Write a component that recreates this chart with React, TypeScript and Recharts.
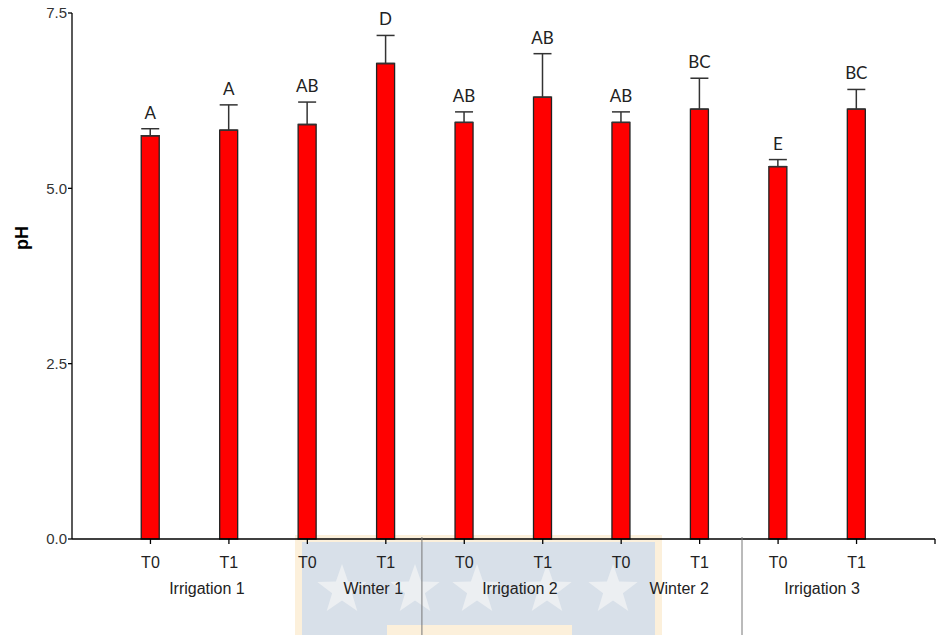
import { BarChart, Bar, XAxis, YAxis, ErrorBar, LabelList } from "recharts";

// pH per sampling slot (T0/T1 inside each season), SE shown upward only
const slots = [1, 2, 3, 4, 5, 6, 7, 8, 9, 10];
const periods = ["T0", "T1", "T0", "T1", "T0", "T1", "T0", "T1", "T0", "T1"];
const phMeans = [5.75, 5.83, 5.91, 6.78, 5.94, 6.30, 5.94, 6.13, 5.31, 6.13];
const phErrors = [0.1, 0.36, 0.32, 0.4, 0.15, 0.62, 0.15, 0.44, 0.1, 0.28];
const letters = ["A", "A", "AB", "D", "AB", "AB", "AB", "BC", "E", "BC"];

const seasons = ["Irrigation 1", "Winter 1", "Irrigation 2", "Winter 2", "Irrigation 3"];
const seasonCenters = [1.72, 3.84, 5.71, 7.74, 9.56];
const seasonBreaks = [4.46, 8.54];
const yTicks = [0, 2.5, 5, 7.5];

const W = 938;
const H = 635;
const AXIS_FONT = "'Liberation Sans', Arial, sans-serif";

const data = slots.map((slot, i) => ({
  slot,
  ph: phMeans[i],
  err: [0, phErrors[i]],
  letter: letters[i],
}));

function starPoints(cx: number, cy: number, r: number) {
  const pts: string[] = [];
  for (let k = 0; k < 10; k++) {
    const rad = k % 2 === 0 ? r : r * 0.4;
    const a = -Math.PI / 2 + (k * Math.PI) / 5;
    pts.push(`${cx + rad * Math.cos(a)},${cy + rad * Math.sin(a)}`);
  }
  return pts.join(" ");
}

// faint crest printed behind the lower axis
function Watermark() {
  const stars = [342, 415, 477, 547, 613];
  return (
    <svg width={W} height={H} style={{ position: "absolute", left: 0, top: 0 }}>
      <rect x={295} y={535} width={367} height={100} fill="#fcf0db" />
      <rect x={302} y={542} width={353} height={93} fill="#d8e0e9" />
      {stars.map((cx) => (
        <polygon key={cx} points={starPoints(cx, 590, 26)} fill="#eceff2" />
      ))}
      <rect x={387} y={625} width={185} height={10} fill="#fcf0db" />
    </svg>
  );
}

function LetterLabel(props: any) {
  const { x, y, width, height, index } = props;
  const pxPerUnit = height / phMeans[index];
  const top = y - phErrors[index] * pxPerUnit;
  return (
    <text
      x={x + width / 2}
      y={top - 10}
      textAnchor="middle"
      fontFamily="Lato, 'Open Sans', sans-serif"
      fontSize={17}
      fill="#222"
    >
      {letters[index]}
    </text>
  );
}

function SeasonBreak(props: any) {
  const { x, y } = props;
  return <line x1={x} x2={x} y1={y - 68} y2={y + 30} stroke="#777" strokeWidth={1} />;
}

export default function App() {
  return (
    <div style={{ position: "absolute", left: 0, top: 0, width: W, height: H, background: "#fff" }}>
      <Watermark />
      <div style={{ position: "absolute", left: 0, top: 0 }}>
        <BarChart width={W} height={H} data={data} margin={{ top: 13, right: 3, left: 0, bottom: 0 }}>
          {/* bottom axes: 0 = T0/T1 ticks, 1 = season names, 2 = season dividers */}
          <XAxis
            xAxisId={0}
            type="number"
            dataKey="slot"
            domain={[0, 11]}
            allowDataOverflow
            ticks={[1, 2, 3, 4, 5, 6, 7, 8, 9, 10, 11]}
            tickFormatter={(v: number) => periods[v - 1] ?? ""}
            height={38}
            tickSize={5}
            tickMargin={13}
            stroke="#000"
            strokeWidth={1.3}
            tick={{ fontSize: 16, fill: "#222", fontFamily: AXIS_FONT }}
            interval={0}
          />
          <XAxis
            xAxisId={1}
            type="number"
            dataKey="slot"
            domain={[0, 11]}
            allowDataOverflow
            ticks={seasonCenters}
            tickFormatter={(v: number) => seasons[seasonCenters.indexOf(v)] ?? ""}
            height={28}
            axisLine={false}
            tickLine={false}
            tickSize={0}
            tickMargin={6}
            tick={{ fontSize: 16, fill: "#222", fontFamily: AXIS_FONT }}
            interval={0}
          />
          <XAxis
            xAxisId={2}
            type="number"
            dataKey="slot"
            domain={[0, 11]}
            allowDataOverflow
            ticks={seasonBreaks}
            height={30}
            axisLine={false}
            tickLine={false}
            tickSize={0}
            tickMargin={0}
            tick={<SeasonBreak />}
            interval={0}
          />
          <YAxis
            domain={[0, 7.5]}
            ticks={yTicks}
            width={72}
            tickFormatter={(v: number) => v.toFixed(1)}
            tickSize={4}
            tickMargin={1}
            stroke="#000"
            strokeWidth={1.3}
            tick={{ fontSize: 15, fill: "#333", fontFamily: AXIS_FONT }}
            interval={0}
            label={{
              content: () => (
                <text
                  x={22}
                  y={238}
                  transform="rotate(-90 22 238)"
                  textAnchor="middle"
                  dominantBaseline="central"
                  fontFamily={AXIS_FONT}
                  fontWeight="bold"
                  fontSize={18}
                  fill="#000"
                >
                  pH
                </text>
              ),
            }}
          />
          <Bar
            xAxisId={0}
            dataKey="ph"
            barSize={18}
            fill="#ff0000"
            stroke="#222"
            strokeWidth={1.3}
            isAnimationActive={false}
          >
            <ErrorBar dataKey="err" direction="y" width={9} stroke="#333" strokeWidth={1.5} isAnimationActive={false} />
            <LabelList dataKey="letter" content={<LetterLabel />} />
          </Bar>
        </BarChart>
      </div>
    </div>
  );
}
